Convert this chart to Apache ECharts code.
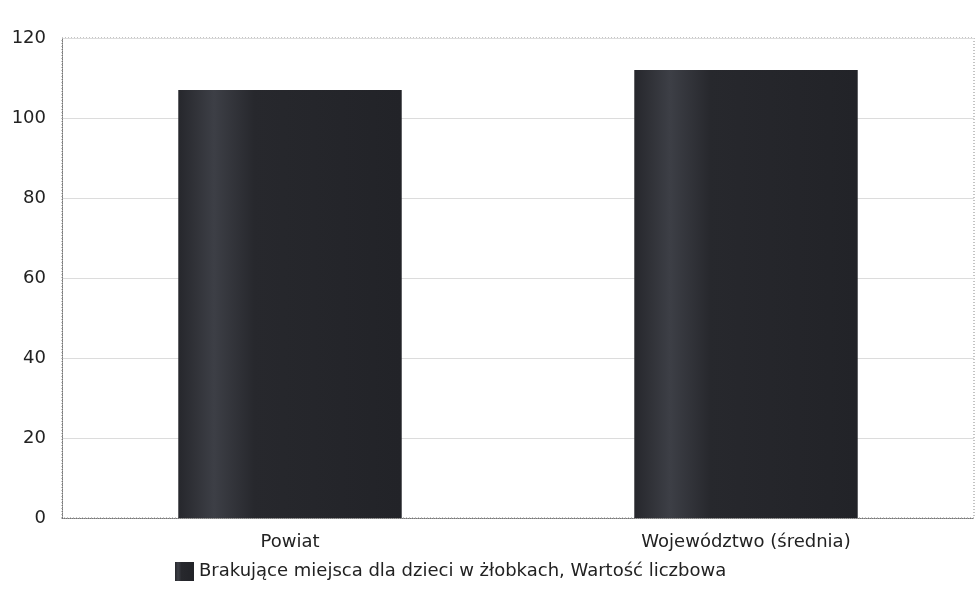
<!DOCTYPE html>
<html>
<head>
<meta charset="utf-8">
<script src="https://cdn.jsdelivr.net/npm/echarts@6/dist/echarts.min.js"></script>
<style>
  html, body { margin: 0; padding: 0; background: #fff; }
  #chart { width: 980px; height: 598px; }
</style>
</head>
<body>
<div id="chart"></div>
<script>
var categories = ['Powiat', 'Województwo (średnia)'];
var values = [107, 112];
var seriesName = 'Brakujące miejsca dla dzieci w żłobkach, Wartość liczbowa';

var myChart = echarts.init(document.getElementById('chart'));

// ciemny słupek z jaśniejszym pasem
var barColor = new echarts.graphic.LinearGradient(0, 0, 1, 0, [
  { offset: 0, color: '#26272c' },
  { offset: 0.16, color: '#3d3f46' },
  { offset: 0.34, color: '#27282d' },
  { offset: 1, color: '#222328' }
]);

var option = {
  backgroundColor: '#ffffff',
  textStyle: { fontFamily: 'DejaVu Sans' },
  grid: { left: 62, right: 6, top: 38, bottom: 80 },
  legend: {
    left: 170,
    top: 557,
    icon: 'rect',
    itemWidth: 19,
    itemHeight: 19,
    itemGap: 6,
    textStyle: { fontSize: 18, color: '#222' },
    data: [seriesName]
  },
  xAxis: {
    type: 'category',
    data: categories,
    axisLine: { show: true, lineStyle: { color: '#777', type: 'dotted', width: 1 } },
    axisTick: { show: false },
    axisLabel: { fontSize: 18, color: '#222', margin: 15 }
  },
  yAxis: {
    type: 'value',
    min: 0,
    max: 120,
    interval: 20,
    axisLine: { show: true, lineStyle: { color: '#777', type: 'dotted', width: 1 } },
    axisTick: { show: false },
    axisLabel: { fontSize: 18, color: '#222', margin: 16 },
    splitLine: { lineStyle: { color: '#dcdcdc', width: 1 } }
  },
  series: [
    {
      name: seriesName,
      type: 'bar',
      barWidth: '49%',
      data: values,
      itemStyle: { color: barColor }
    }
  ],
  graphic: [
    {
      type: 'rect',
      shape: { x: 62, y: 38, width: 912, height: 480 },
      style: { fill: 'none', stroke: '#888', lineDash: [1, 2], lineWidth: 1 },
      silent: true
    }
  ]
};
myChart.setOption(option);
</script>
</body>
</html>
